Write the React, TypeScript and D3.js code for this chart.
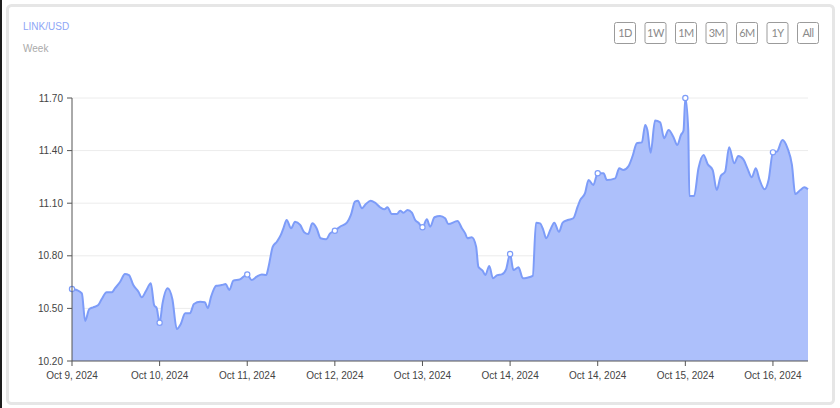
import React from 'react';
import * as d3 from 'd3';

// hours since Oct 9, 2024 00:00 (chart-local)
const hours = [
  0, 1.3, 2.7, 3.6, 4.7, 5.8, 7.2, 8.1, 9.5, 10.9, 11.8, 13.2, 14.5, 15.6, 16.8, 18.2, 19.1, 20.3, 21.6, 22.5,
  23.2, 24, 24.8, 26.2, 27.5, 28.7, 29.8, 31, 32.3, 33.4, 35.1, 36.4, 37.2, 38.1, 39.5, 41, 42.1, 43.1, 44.2, 46,
  48, 49.2, 50.6, 52, 53.2, 53.8, 55, 56.1, 57.2, 57.9, 58.8, 60, 61.1, 62.5, 63.6, 64.7, 65.8, 67, 68.1, 69.6,
  70.7, 72, 73.4, 75.3, 76.4, 77.5, 78.3, 79.4, 80.5, 81.8, 83, 84.4, 85.6, 86.4, 87.6, 89, 89.9, 90.8, 91.9, 93.1,
  94, 94.9, 96, 97.2, 98.1, 99.3, 100.8, 102.2, 103.1, 105.6, 106.8, 107.7, 108.3, 109.5, 110.7, 111.3, 112.5, 113.2, 114.3, 115.3,
  116.5, 117.7, 118.9, 120, 120.9, 122.3, 123.5, 124.7, 126.2, 127.1, 128.2, 129.1, 129.9, 131, 132.1, 133.4, 134.4, 135.8, 137.3, 138.5,
  139.2, 140.5, 141.5, 142.8, 144, 145.6, 146.5, 148.8, 149.9, 151, 152.4, 153.6, 154.7, 156.1, 157, 157.6, 158.5, 159.7, 161.1, 162.2,
  163.4, 164.7, 165.8, 166.8, 167.5, 168, 168.8, 169.1, 170.4, 171.6, 173, 174.1, 175.5, 176.6, 177.7, 178.9, 180, 181.4, 182.5, 183.9,
  185, 186.2, 187.3, 188.3, 189.7, 190.8, 192, 193.1, 194.6, 196, 197.2, 198.1, 199.5, 200.6, 201.6,
];

const prices = [
  10.611, 10.605, 10.586, 10.428, 10.495, 10.506, 10.519, 10.552, 10.592, 10.592, 10.615, 10.652, 10.696, 10.69, 10.633, 10.595, 10.563, 10.601, 10.643, 10.519,
  10.501, 10.418, 10.529, 10.615, 10.552, 10.383, 10.411, 10.472, 10.472, 10.525, 10.538, 10.535, 10.501, 10.567, 10.629, 10.633, 10.639, 10.605, 10.658, 10.666,
  10.694, 10.662, 10.681, 10.694, 10.69, 10.734, 10.852, 10.88, 10.919, 10.957, 11.004, 10.957, 10.994, 10.976, 10.934, 10.924, 10.985, 10.957, 10.9, 10.894,
  10.928, 10.943, 10.966, 10.989, 11.033, 11.109, 11.114, 11.071, 11.095, 11.114, 11.103, 11.077, 11.065, 11.077, 11.038, 11.038, 11.057, 11.046, 11.061, 11.046,
  11.004, 10.989, 10.963, 11.008, 10.966, 11.02, 11.027, 11.014, 10.981, 10.998, 10.957, 10.928, 10.9, 10.906, 10.852, 10.738, 10.715, 10.69, 10.742, 10.672,
  10.69, 10.694, 10.723, 10.81, 10.719, 10.734, 10.672, 10.675, 10.685, 10.989, 10.985, 10.947, 10.9, 10.947, 10.989, 10.937, 10.989, 11.004, 11.014, 11.08,
  11.118, 11.156, 11.232, 11.204, 11.271, 11.271, 11.232, 11.242, 11.299, 11.289, 11.31, 11.372, 11.442, 11.447, 11.546, 11.517, 11.388, 11.571, 11.561, 11.47,
  11.517, 11.479, 11.432, 11.489, 11.514, 11.7, 11.517, 11.141, 11.141, 11.299, 11.375, 11.324, 11.289, 11.175, 11.255, 11.28, 11.419, 11.328, 11.369, 11.35,
  11.299, 11.248, 11.299, 11.236, 11.179, 11.232, 11.39, 11.394, 11.46, 11.413, 11.318, 11.152, 11.175, 11.191, 11.179,
];

const tickHours = [0, 24, 48, 72, 96, 120, 144, 168, 192];
const tickLabels = [
  'Oct 9, 2024', 'Oct 10, 2024', 'Oct 11, 2024', 'Oct 12, 2024', 'Oct 13, 2024',
  'Oct 14, 2024', 'Oct 14, 2024', 'Oct 15, 2024', 'Oct 16, 2024',
];
const yTicks = [10.2, 10.5, 10.8, 11.1, 11.4, 11.7];
const ranges = ['1D', '1W', '1M', '3M', '6M', '1Y', 'All'];

const W = 840;
const H = 408;
const margin = { top: 98, right: 32, bottom: 47, left: 72 };
const font = 'Arial, "Liberation Sans", sans-serif';

const App: React.FC = () => {
  const data = hours.map((h, i) => ({ h, p: prices[i] }));

  const x = d3
    .scaleLinear()
    .domain([0, d3.max(hours) ?? 201.6])
    .range([margin.left, W - margin.right]);
  const y = d3
    .scaleLinear()
    .domain([10.2, 11.7])
    .range([H - margin.bottom, margin.top]);

  const area = d3
    .area<{ h: number; p: number }>()
    .x((d) => x(d.h))
    .y0(y(10.2))
    .y1((d) => y(d.p))
    .curve(d3.curveMonotoneX);
  const line = d3
    .line<{ h: number; p: number }>()
    .x((d) => x(d.h))
    .y((d) => y(d.p))
    .curve(d3.curveMonotoneX);

  // markers sit on the day boundaries
  const markers = data.filter((d) => tickHours.includes(d.h));

  const [x0, x1] = x.range();
  const yb = y(10.2);

  return (
    <svg
      width={W}
      height={H}
      style={{ position: 'absolute', left: 0, top: 0, display: 'block' }}
      fontFamily={font}
    >
      <rect x={0} y={0} width={W} height={H} fill="#fff" />
      <rect x={0} y={0} width={2} height={H} fill="#1e1e1e" />
      {/* card */}
      <rect x={7.5} y={5.5} width={826} height={398} rx={4} fill="#fff" stroke="#e6e6e6" strokeWidth={3} />

      <text x={23} y={29.5} fontSize={10} fill="#8ea6f6">LINK/USD</text>
      <text x={23} y={52} fontSize={10} fill="#aaa">Week</text>

      {/* range buttons */}
      {ranges.map((r, i) => {
        const bx = 614.5 + i * 30.5;
        return (
          <g key={r}>
            <rect x={bx} y={22.5} width={21} height={21} rx={2} fill="#fff" stroke="#9b9b9b" strokeWidth={1} />
            <text
              x={bx + 10.5}
              y={37}
              fontSize={11}
              fill="#8a8a8a"
              textAnchor="middle"
              fontFamily='Lato, "Open Sans", sans-serif'
              letterSpacing={-0.5}
            >
              {r}
            </text>
          </g>
        );
      })}

      {/* grid */}
      {yTicks.slice(1).map((t) => (
        <line key={t} x1={x0} x2={x1} y1={y(t)} y2={y(t)} stroke="#ececec" strokeWidth={1} />
      ))}

      <path d={area(data) ?? ''} fill="#adc0fb" />
      <path d={line(data) ?? ''} fill="none" stroke="#7d9cf8" strokeWidth={2} />
      {markers.map((d) => (
        <circle key={d.h} cx={x(d.h)} cy={y(d.p)} r={2.6} fill="#fff" stroke="#7d9cf8" strokeWidth={1.2} />
      ))}

      {/* y axis */}
      <line x1={x0} x2={x0} y1={y(11.7)} y2={yb} stroke="#555" strokeWidth={1} />
      {yTicks.map((t) => (
        <g key={t} transform={`translate(${x0},${y(t)})`}>
          <line x1={-5} x2={0} stroke="#555" />
          <text x={-9} dy="0.35em" fontSize={10} fill="#444" textAnchor="end">
            {t.toFixed(2)}
          </text>
        </g>
      ))}

      {/* x axis */}
      <line x1={x0} x2={x1} y1={yb} y2={yb} stroke="#555" strokeWidth={1} />
      {tickHours.map((h, i) => (
        <g key={i} transform={`translate(${x(h)},${yb})`}>
          <line y1={0} y2={5} stroke="#555" />
          <text y={18} fontSize={10} fill="#444" textAnchor="middle">
            {tickLabels[i]}
          </text>
        </g>
      ))}
    </svg>
  );
};

export default App;
